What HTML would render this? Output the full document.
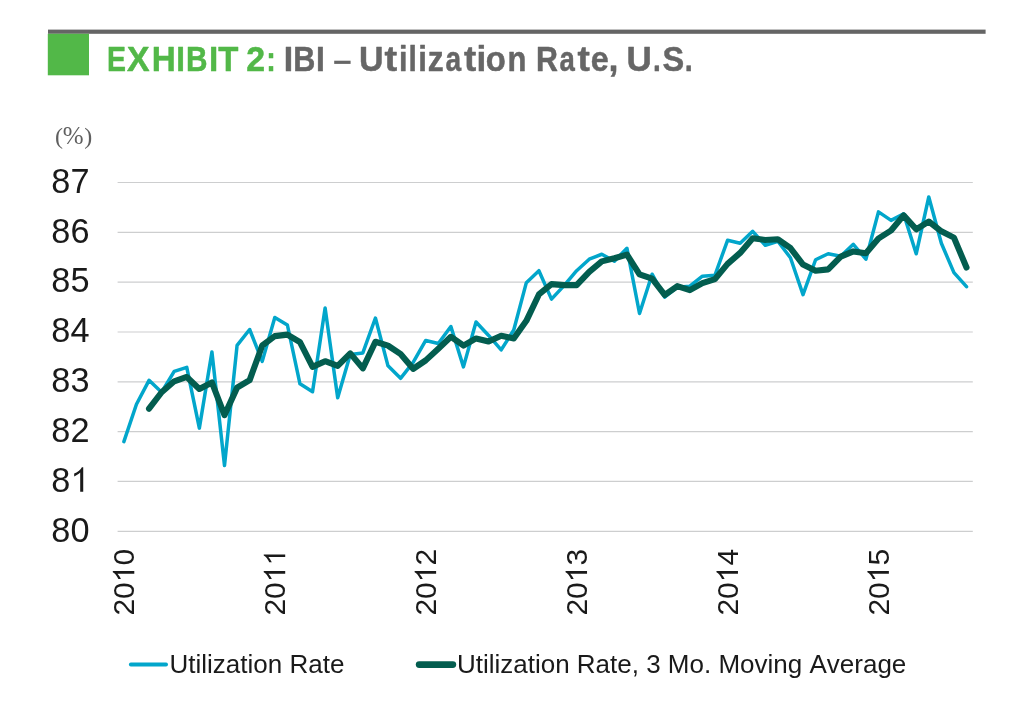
<!DOCTYPE html>
<html><head><meta charset="utf-8"><style>
html,body{margin:0;padding:0;background:#fff;}
body{width:1025px;height:715px;overflow:hidden;position:relative;}
svg{position:absolute;left:0;top:0;will-change:transform;}
text{font-family:"Liberation Sans",sans-serif;font-kerning:none;}
.serif text{font-family:"Liberation Serif",serif;}
</style></head><body>
<svg width="1025" height="715" viewBox="0 0 1025 715">
<rect x="48" y="29.6" width="937.6" height="4.2" fill="#656565"/>
<rect x="47.8" y="33.8" width="41.2" height="41.5" fill="#52b848"/>
<g font-size="35.8" font-weight="bold" stroke-width="0.5" stroke-linejoin="round"><text transform="translate(106.91,70.6) scale(0.7951,1)" fill="#52b848" stroke="#52b848">E</text><text transform="translate(127.0,70.6) scale(0.9432,1)" fill="#52b848" stroke="#52b848">X</text><text transform="translate(151.71,70.6) scale(0.9302,1)" fill="#52b848" stroke="#52b848">H</text><text transform="translate(176.24,70.6) scale(0.8727,1)" fill="#52b848" stroke="#52b848">I</text><text transform="translate(185.93,70.6) scale(0.8315,1)" fill="#52b848" stroke="#52b848">B</text><text transform="translate(209.11,70.6) scale(0.9273,1)" fill="#52b848" stroke="#52b848">I</text><text transform="translate(218.27,70.6) scale(0.9209,1)" fill="#52b848" stroke="#52b848">T</text><text transform="translate(246.35,70.6) scale(0.9465,1)" fill="#52b848" stroke="#52b848">2</text><text transform="translate(266.2,70.6) scale(0.8,1)" fill="#52b848" stroke="#52b848">:</text><text transform="translate(283.87,70.6) scale(0.9455,1)" fill="#666666" stroke="#666666">I</text><text transform="translate(293.18,70.6) scale(0.8539,1)" fill="#666666" stroke="#666666">B</text><text transform="translate(316.0,70.6) scale(0.8909,1)" fill="#666666" stroke="#666666">I</text><text transform="translate(359.0,70.6) scale(0.95,1)" fill="#666666" stroke="#666666">U</text><text transform="translate(384.53,70.6) scale(1.0609,1)" fill="#666666" stroke="#666666">t</text><text transform="translate(399.08,70.6) scale(0.8545,1)" fill="#666666" stroke="#666666">i</text><text transform="translate(408.52,70.6) scale(0.8364,1)" fill="#666666" stroke="#666666">l</text><text transform="translate(418.24,70.6) scale(0.8727,1)" fill="#666666" stroke="#666666">i</text><text transform="translate(427.79,70.6) scale(0.8903,1)" fill="#666666" stroke="#666666">z</text><text transform="translate(445.41,70.6) scale(0.7848,1)" fill="#666666" stroke="#666666">a</text><text transform="translate(463.94,70.6) scale(1.0261,1)" fill="#666666" stroke="#666666">t</text><text transform="translate(476.39,70.6) scale(0.9818,1)" fill="#666666" stroke="#666666">i</text><text transform="translate(485.85,70.6) scale(0.9179,1)" fill="#666666" stroke="#666666">o</text><text transform="translate(507.47,70.6) scale(0.8667,1)" fill="#666666" stroke="#666666">n</text><text transform="translate(535.89,70.6) scale(0.8478,1)" fill="#666666" stroke="#666666">R</text><text transform="translate(559.62,70.6) scale(0.7696,1)" fill="#666666" stroke="#666666">a</text><text transform="translate(577.54,70.6) scale(1.0348,1)" fill="#666666" stroke="#666666">t</text><text transform="translate(590.87,70.6) scale(0.9014,1)" fill="#666666" stroke="#666666">e</text><text transform="translate(608.4,70.6) scale(1.0,1)" fill="#666666" stroke="#666666">,</text><text transform="translate(626.55,70.6) scale(0.9773,1)" fill="#666666" stroke="#666666">U</text><text transform="translate(652.94,70.6) scale(0.7818,1)" fill="#666666" stroke="#666666">.</text><text transform="translate(662.52,70.6) scale(0.9091,1)" fill="#666666" stroke="#666666">S</text><text transform="translate(684.8,70.6) scale(0.8,1)" fill="#666666" stroke="#666666">.</text></g><rect x="334.2" y="60.7" width="16.4" height="3.2" fill="#666666"/>
<g fill="#5f5f5f" class="serif"><text x="55" y="144.2" font-size="24">(</text><text x="62.7" y="144.2" font-size="25">%</text><text x="84.3" y="144.2" font-size="24">)</text></g>
<g stroke="#cdcecf" stroke-width="1.2"><line x1="117.6" y1="531.30" x2="972.8" y2="531.30"/><line x1="117.6" y1="481.47" x2="972.8" y2="481.47"/><line x1="117.6" y1="431.64" x2="972.8" y2="431.64"/><line x1="117.6" y1="381.81" x2="972.8" y2="381.81"/><line x1="117.6" y1="331.98" x2="972.8" y2="331.98"/><line x1="117.6" y1="282.15" x2="972.8" y2="282.15"/><line x1="117.6" y1="232.32" x2="972.8" y2="232.32"/><line x1="117.6" y1="182.49" x2="972.8" y2="182.49"/></g>
<g font-size="34.3" fill="#1a1a1a"><text x="51.36" y="541.60">8</text><text x="70.43" y="541.60">0</text><text x="51.36" y="491.77">8</text><path transform="translate(70.43,491.77) scale(34.3,-34.3)" d="M0.373,0 L0.285,0 L0.285,0.560 C0.262,0.538 0.232,0.516 0.197,0.494 C0.163,0.473 0.133,0.457 0.109,0.446 L0.109,0.531 C0.152,0.551 0.199,0.579 0.250,0.616 C0.290,0.648 0.318,0.682 0.334,0.716 L0.373,0.716 Z"/><text x="51.36" y="441.94">8</text><text x="70.43" y="441.94">2</text><text x="51.36" y="392.11">8</text><text x="70.43" y="392.11">3</text><text x="51.36" y="342.28">8</text><text x="70.43" y="342.28">4</text><text x="51.36" y="292.45">8</text><text x="70.43" y="292.45">5</text><text x="51.36" y="242.62">8</text><text x="70.43" y="242.62">6</text><text x="51.36" y="192.79">8</text><text x="70.43" y="192.79">7</text></g>
<g font-size="30" fill="#1a1a1a"><g transform="translate(134.29,548.9) rotate(-90)"><text x="-66.72" y="0.00">2</text><text x="-50.04" y="0.00">0</text><path transform="translate(-33.36,0.00) scale(30,-30)" d="M0.373,0 L0.285,0 L0.285,0.560 C0.262,0.538 0.232,0.516 0.197,0.494 C0.163,0.473 0.133,0.457 0.109,0.446 L0.109,0.531 C0.152,0.551 0.199,0.579 0.250,0.616 C0.290,0.648 0.318,0.682 0.334,0.716 L0.373,0.716 Z"/><text x="-16.68" y="0.00">0</text></g><g transform="translate(285.21,548.9) rotate(-90)"><text x="-66.72" y="0.00">2</text><text x="-50.04" y="0.00">0</text><path transform="translate(-33.36,0.00) scale(30,-30)" d="M0.373,0 L0.285,0 L0.285,0.560 C0.262,0.538 0.232,0.516 0.197,0.494 C0.163,0.473 0.133,0.457 0.109,0.446 L0.109,0.531 C0.152,0.551 0.199,0.579 0.250,0.616 C0.290,0.648 0.318,0.682 0.334,0.716 L0.373,0.716 Z"/><path transform="translate(-16.68,0.00) scale(30,-30)" d="M0.373,0 L0.285,0 L0.285,0.560 C0.262,0.538 0.232,0.516 0.197,0.494 C0.163,0.473 0.133,0.457 0.109,0.446 L0.109,0.531 C0.152,0.551 0.199,0.579 0.250,0.616 C0.290,0.648 0.318,0.682 0.334,0.716 L0.373,0.716 Z"/></g><g transform="translate(436.12,548.9) rotate(-90)"><text x="-66.72" y="0.00">2</text><text x="-50.04" y="0.00">0</text><path transform="translate(-33.36,0.00) scale(30,-30)" d="M0.373,0 L0.285,0 L0.285,0.560 C0.262,0.538 0.232,0.516 0.197,0.494 C0.163,0.473 0.133,0.457 0.109,0.446 L0.109,0.531 C0.152,0.551 0.199,0.579 0.250,0.616 C0.290,0.648 0.318,0.682 0.334,0.716 L0.373,0.716 Z"/><text x="-16.68" y="0.00">2</text></g><g transform="translate(587.04,548.9) rotate(-90)"><text x="-66.72" y="0.00">2</text><text x="-50.04" y="0.00">0</text><path transform="translate(-33.36,0.00) scale(30,-30)" d="M0.373,0 L0.285,0 L0.285,0.560 C0.262,0.538 0.232,0.516 0.197,0.494 C0.163,0.473 0.133,0.457 0.109,0.446 L0.109,0.531 C0.152,0.551 0.199,0.579 0.250,0.616 C0.290,0.648 0.318,0.682 0.334,0.716 L0.373,0.716 Z"/><text x="-16.68" y="0.00">3</text></g><g transform="translate(737.96,548.9) rotate(-90)"><text x="-66.72" y="0.00">2</text><text x="-50.04" y="0.00">0</text><path transform="translate(-33.36,0.00) scale(30,-30)" d="M0.373,0 L0.285,0 L0.285,0.560 C0.262,0.538 0.232,0.516 0.197,0.494 C0.163,0.473 0.133,0.457 0.109,0.446 L0.109,0.531 C0.152,0.551 0.199,0.579 0.250,0.616 C0.290,0.648 0.318,0.682 0.334,0.716 L0.373,0.716 Z"/><text x="-16.68" y="0.00">4</text></g><g transform="translate(888.88,548.9) rotate(-90)"><text x="-66.72" y="0.00">2</text><text x="-50.04" y="0.00">0</text><path transform="translate(-33.36,0.00) scale(30,-30)" d="M0.373,0 L0.285,0 L0.285,0.560 C0.262,0.538 0.232,0.516 0.197,0.494 C0.163,0.473 0.133,0.457 0.109,0.446 L0.109,0.531 C0.152,0.551 0.199,0.579 0.250,0.616 C0.290,0.648 0.318,0.682 0.334,0.716 L0.373,0.716 Z"/><text x="-16.68" y="0.00">5</text></g></g>
<polyline points="123.89,441.61 136.46,404.23 149.04,380.32 161.62,392.27 174.19,371.35 186.77,367.36 199.35,428.15 211.92,351.91 224.50,465.52 237.08,345.43 249.65,329.49 262.23,361.38 274.81,317.53 287.38,325.00 299.96,383.80 312.54,391.78 325.11,308.06 337.69,397.76 350.26,354.40 362.84,352.91 375.42,318.03 387.99,365.86 400.57,378.32 413.15,362.38 425.72,340.45 438.30,343.44 450.88,326.50 463.45,366.86 476.03,322.01 488.61,335.47 501.18,349.92 513.76,329.99 526.34,282.65 538.91,270.69 551.49,299.09 564.06,285.64 576.64,270.69 589.22,259.23 601.79,254.25 614.37,261.22 626.95,248.27 639.52,313.54 652.10,274.18 664.68,297.10 677.25,287.13 689.83,286.14 702.41,276.17 714.98,275.17 727.56,240.29 740.14,243.28 752.71,231.32 765.29,245.28 777.86,241.29 790.44,257.73 803.02,294.61 815.59,259.73 828.17,253.75 840.75,256.24 853.32,244.28 865.90,259.23 878.48,211.89 891.05,220.36 903.63,213.88 916.21,253.75 928.78,196.94 941.36,243.28 953.94,272.68 966.51,286.63" fill="none" stroke="#02a6cb" stroke-width="3.5" stroke-linejoin="round" stroke-linecap="round"/>
<polyline points="149.04,408.72 161.62,392.27 174.19,381.31 186.77,376.99 199.35,388.95 211.92,382.47 224.50,415.20 237.08,387.62 249.65,380.15 262.23,345.43 274.81,336.13 287.38,334.64 299.96,342.11 312.54,366.86 325.11,361.21 337.69,365.86 350.26,353.41 362.84,368.36 375.42,341.78 387.99,345.60 400.57,354.07 413.15,368.85 425.72,360.38 438.30,348.76 450.88,336.80 463.45,345.60 476.03,338.46 488.61,341.45 501.18,335.80 513.76,338.46 526.34,320.85 538.91,294.44 551.49,284.14 564.06,285.14 576.64,285.14 589.22,271.85 601.79,261.39 614.37,258.23 626.95,254.58 639.52,274.34 652.10,278.66 664.68,294.94 677.25,286.14 689.83,290.12 702.41,283.15 714.98,279.16 727.56,263.88 740.14,252.92 752.71,238.30 765.29,239.96 777.86,239.30 790.44,248.10 803.02,264.54 815.59,270.69 828.17,269.36 840.75,256.57 853.32,251.42 865.90,253.25 878.48,238.47 891.05,230.49 903.63,215.38 916.21,229.33 928.78,221.52 941.36,231.32 953.94,237.64 966.51,267.53" fill="none" stroke="#035d4f" stroke-width="6.1" stroke-linejoin="round" stroke-linecap="round"/>
<line x1="130.8" y1="664.5" x2="166.1" y2="664.5" stroke="#02a6cb" stroke-width="3.8" stroke-linecap="round"/>
<text x="169.5" y="672.8" font-size="26" fill="#1a1a1a">Utilization Rate</text>
<line x1="419.2" y1="664.6" x2="452.8" y2="664.6" stroke="#035d4f" stroke-width="6.8" stroke-linecap="round"/>
<text x="456.9" y="672.8" font-size="26" fill="#1a1a1a">Utilization Rate, 3 Mo. Moving Average</text>
</svg>
</body></html>
